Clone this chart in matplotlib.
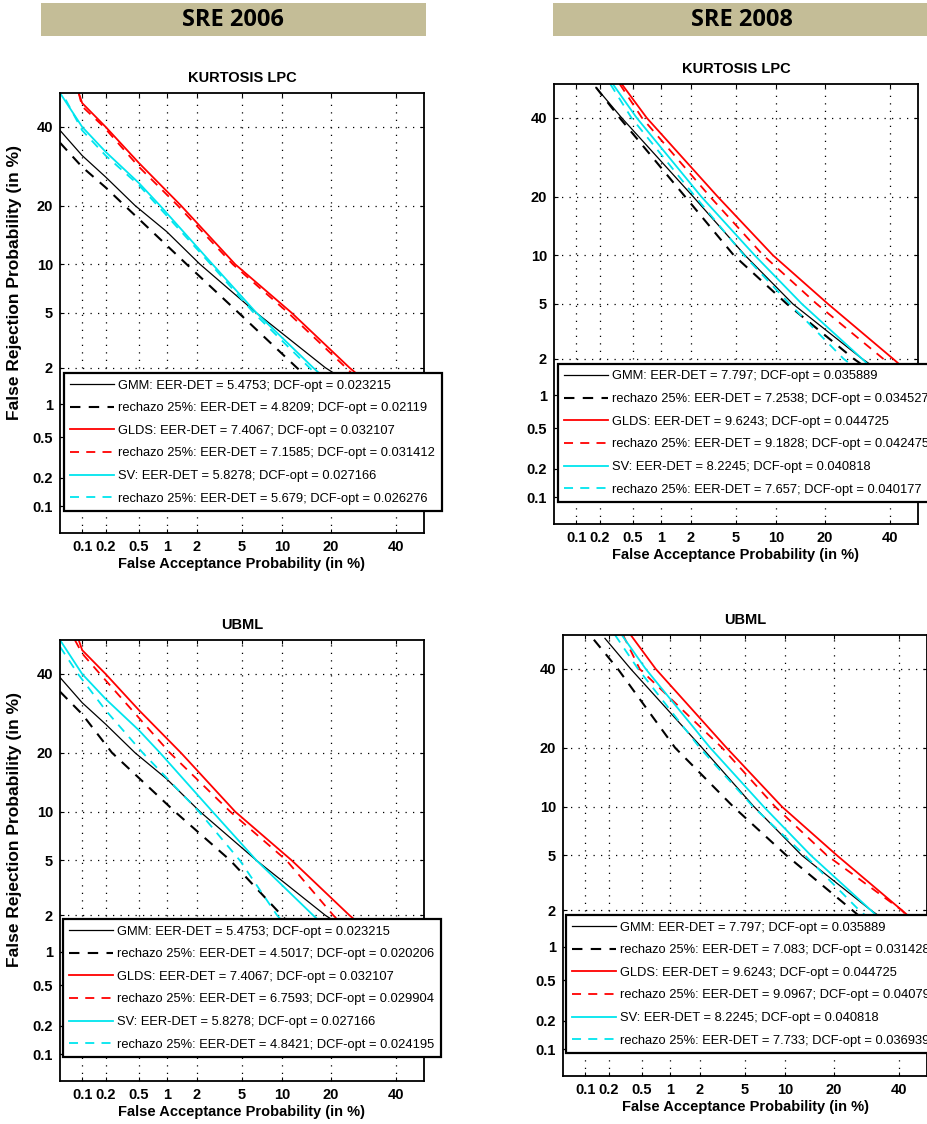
import numpy as np
import matplotlib.pyplot as plt
from matplotlib.patches import Rectangle
from statistics import NormalDist

plt.rcParams['font.family'] = ['Liberation Sans', 'DejaVu Sans']

# tick positions (percent)
ticks = [0.1, 0.2, 0.5, 1, 2, 5, 10, 20, 40]
tick_labels = ['0.1', '0.2', '0.5', '1', '2', '5', '10', '20', '40']

# ---- SRE 2006, baseline systems (same in both rows) ----
gmm06_fa = [0.05, 0.1, 0.2, 0.45, 1, 2.15, 6.5, 18.6, 25]
gmm06_fr = [39, 32, 26.5, 20, 15, 10, 5, 2, 1.5]
glds06_fa = [0.09, 0.1, 0.2, 0.5, 1.4, 4.4, 11.6, 25, 32]
glds06_fr = [50, 47, 40, 30, 20, 10, 5, 2, 1.4]
sv06_fa = [0.05, 0.1, 0.2, 0.5, 0.85, 2.8, 6.5, 15.8, 18]
sv06_fr = [50, 40, 33, 25, 20, 10, 5, 2, 1.7]

# SRE 2006, KURTOSIS LPC rejection 25%
gmm06k_fa = [0.05, 0.1, 0.2, 0.34, 0.7, 1.6, 4.7, 12.5, 17]
gmm06k_fr = [35.5, 29, 24, 20, 15, 10, 5, 2, 1.4]
glds06k_fa = [0.09, 0.1, 0.19, 0.5, 1.3, 4.2, 11, 24, 30]
glds06k_fr = [50, 46, 40, 29, 20, 10, 5, 2, 1.4]
sv06k_fa = [0.06, 0.1, 0.2, 0.5, 0.8, 2.7, 6.2, 15, 17]
sv06k_fr = [48, 39, 32, 24.5, 20, 10, 5, 2, 1.7]

# SRE 2006, UBML rejection 25%
gmm06u_fa = [0.05, 0.1, 0.24, 1.22, 4, 9.9, 13]
gmm06u_fr = [35, 29, 20, 10, 5, 2, 1.4]
glds06u_fa = [0.08, 0.1, 0.17, 1.08, 4, 10.7, 20.6, 26]
glds06u_fr = [50, 46, 40, 20, 10, 5, 2, 1.4]
sv06u_fa = [0.05, 0.088, 0.2, 0.55, 2.1, 4.8, 9.2, 12]
sv06u_fr = [48, 40, 30, 20, 10, 5, 2, 1.4]

# ---- SRE 2008, baseline systems ----
gmm08_fa = [0.18, 0.37, 2.1, 5.9, 12.9, 30.6, 38]
gmm08_fr = [49, 40, 20, 10, 5, 2, 1.5]
glds08_fa = [0.37, 0.71, 3.5, 9.5, 20.8, 41, 46]
glds08_fr = [50, 40, 20, 10, 5, 2, 1.6]
sv08_fa = [0.29, 0.55, 2.5, 7.0, 14.7, 30.6, 36]
sv08_fr = [50, 40, 20, 10, 5, 2, 1.5]

# SRE 2008, KURTOSIS LPC rejection 25%
gmm08k_fa = [0.18, 0.35, 1.76, 4.8, 11.8, 28, 35]
gmm08k_fr = [49, 40, 20, 10, 5, 2, 1.5]
glds08k_fa = [0.35, 0.63, 3.0, 8.1, 18, 37.6, 44]
glds08k_fr = [50, 40, 20, 10, 5, 2, 1.5]
sv08k_fa = [0.27, 0.48, 2.2, 5.8, 12.3, 25, 31]
sv08k_fr = [50, 40, 20, 10, 5, 2, 1.5]

# SRE 2008, UBML rejection 25%
gmm08u_fa = [0.13, 0.26, 1.14, 4.0, 10.2, 25, 32]
gmm08u_fr = [48.6, 40, 20, 10, 5, 2, 1.4]
glds08u_fa = [0.3, 0.47, 3.2, 8.5, 18.3, 41, 46]
glds08u_fr = [50, 40, 20, 10, 5, 2, 1.5]
sv08u_fa = [0.24, 0.45, 2.0, 5.8, 13.5, 27, 33]
sv08u_fr = [50, 40, 20, 10, 5, 2, 1.5]

labels_06k = ['GMM: EER-DET = 5.4753; DCF-opt = 0.023215',
              'rechazo 25%: EER-DET = 4.8209; DCF-opt = 0.02119',
              'GLDS: EER-DET = 7.4067; DCF-opt = 0.032107',
              'rechazo 25%: EER-DET = 7.1585; DCF-opt = 0.031412',
              'SV: EER-DET = 5.8278; DCF-opt = 0.027166',
              'rechazo 25%: EER-DET = 5.679; DCF-opt = 0.026276']
labels_06u = ['GMM: EER-DET = 5.4753; DCF-opt = 0.023215',
              'rechazo 25%: EER-DET = 4.5017; DCF-opt = 0.020206',
              'GLDS: EER-DET = 7.4067; DCF-opt = 0.032107',
              'rechazo 25%: EER-DET = 6.7593; DCF-opt = 0.029904',
              'SV: EER-DET = 5.8278; DCF-opt = 0.027166',
              'rechazo 25%: EER-DET = 4.8421; DCF-opt = 0.024195']
labels_08k = ['GMM: EER-DET = 7.797; DCF-opt = 0.035889',
              'rechazo 25%: EER-DET = 7.2538; DCF-opt = 0.034527',
              'GLDS: EER-DET = 9.6243; DCF-opt = 0.044725',
              'rechazo 25%: EER-DET = 9.1828; DCF-opt = 0.042475',
              'SV: EER-DET = 8.2245; DCF-opt = 0.040818',
              'rechazo 25%: EER-DET = 7.657; DCF-opt = 0.040177']
labels_08u = ['GMM: EER-DET = 7.797; DCF-opt = 0.035889',
              'rechazo 25%: EER-DET = 7.083; DCF-opt = 0.031428',
              'GLDS: EER-DET = 9.6243; DCF-opt = 0.044725',
              'rechazo 25%: EER-DET = 9.0967; DCF-opt = 0.040794',
              'SV: EER-DET = 8.2245; DCF-opt = 0.040818',
              'rechazo 25%: EER-DET = 7.733; DCF-opt = 0.036939']

nd = NormalDist()
_ppf = np.vectorize(nd.inv_cdf, otypes=[float])
_cdf = np.vectorize(nd.cdf, otypes=[float])


def to_dev(p):
    p = np.clip(np.asarray(p, dtype=float) / 100.0, 1e-9, 1 - 1e-9)
    return _ppf(p)


def from_dev(d):
    return _cdf(np.asarray(d, dtype=float)) * 100.0


W, H = 928, 1124
fig = plt.figure(figsize=(W / 100, H / 100), dpi=100)

# header boxes
for x0, x1, tx, txt in [(41, 426, 233, 'SRE 2006'), (553, 935, 742, 'SRE 2008')]:
    fig.add_artist(Rectangle((x0 / W, 1 - 36 / H), (x1 - x0) / W, 33 / H,
                             transform=fig.transFigure, facecolor='#C4BD97',
                             edgecolor='none'))
    fig.text(tx / W, 1 - 20 / H, txt, ha='center', va='center', fontsize=17,
             fontweight='bold', family=['Open Sans', 'DejaVu Sans'])

styles = [dict(color='k', lw=0.9, ls='-'),
          dict(color='k', lw=1.5, ls=(0, (5, 4))),
          dict(color='#FF0000', lw=1.3, ls='-'),
          dict(color='#FF0000', lw=1.3, ls=(0, (5, 4))),
          dict(color='#00E5EE', lw=1.3, ls='-'),
          dict(color='#00E5EE', lw=1.3, ls=(0, (5, 4)))]

# (left, top, right, bottom) px, title, curves, labels, legend corner px, ylabel
panels = [
    ((60, 93, 424, 533), 'KURTOSIS LPC',
     [(gmm06_fa, gmm06_fr), (gmm06k_fa, gmm06k_fr), (glds06_fa, glds06_fr),
      (glds06k_fa, glds06k_fr), (sv06_fa, sv06_fr), (sv06k_fa, sv06k_fr)],
     labels_06k, (64, 373), True),
    ((554, 84, 918, 524), 'KURTOSIS LPC',
     [(gmm08_fa, gmm08_fr), (gmm08k_fa, gmm08k_fr), (glds08_fa, glds08_fr),
      (glds08k_fa, glds08k_fr), (sv08_fa, sv08_fr), (sv08k_fa, sv08k_fr)],
     labels_08k, (558, 364), False),
    ((60, 640, 424, 1081), 'UBML',
     [(gmm06_fa, gmm06_fr), (gmm06u_fa, gmm06u_fr), (glds06_fa, glds06_fr),
      (glds06u_fa, glds06u_fr), (sv06_fa, sv06_fr), (sv06u_fa, sv06u_fr)],
     labels_06u, (63, 919), True),
    ((563, 635, 927, 1076), 'UBML',
     [(gmm08_fa, gmm08_fr), (gmm08u_fa, gmm08u_fr), (glds08_fa, glds08_fr),
      (glds08u_fa, glds08u_fr), (sv08_fa, sv08_fr), (sv08u_fa, sv08u_fr)],
     labels_08u, (566, 915), False),
]

for (l, t, r, b), title, curves, labels, (lx, ly), has_ylabel in panels:
    ax = fig.add_axes([l / W, 1 - b / H, (r - l) / W, (b - t) / H])
    ax.set_xscale('function', functions=(to_dev, from_dev))
    ax.set_yscale('function', functions=(to_dev, from_dev))
    handles = []
    for (fa, fr), st in zip(curves, styles):
        h, = ax.plot(fa, fr, color=st['color'], lw=st['lw'], linestyle=st['ls'])
        handles.append(h)
    ax.set_xlim(0.05, 50)
    ax.set_ylim(0.05, 50)
    ax.set_xticks(ticks)
    ax.set_yticks(ticks)
    ax.set_xticklabels(tick_labels, fontweight='bold', fontsize=10.5)
    ax.set_yticklabels(tick_labels, fontweight='bold', fontsize=10.5)
    ax.minorticks_off()
    ax.tick_params(direction='in', length=3, top=True, right=True, pad=5)
    ax.grid(True, color='k', linestyle=(0, (1, 5)), linewidth=0.9)
    for sp in ax.spines.values():
        sp.set_linewidth(1.3)
    ax.set_title(title, fontsize=10.5, fontweight='bold', pad=8)
    ax.set_xlabel('False Acceptance Probability (in %)', fontsize=10.5,
                  fontweight='bold', labelpad=2)
    if has_ylabel:
        ax.set_ylabel('False Rejection Probability (in %)', fontsize=12.5,
                      fontweight='bold')
        ax.yaxis.set_label_coords(-0.104, 0.57)
    leg = ax.legend(handles, labels, loc='upper left',
                    bbox_to_anchor=(lx / W, 1 - ly / H),
                    bbox_transform=fig.transFigure, borderaxespad=0,
                    fancybox=False, edgecolor='k', framealpha=1, fontsize=9.3,
                    handlelength=3.4, handletextpad=0.3, labelspacing=0.82,
                    borderpad=0.5)
    leg.get_frame().set_linewidth(1.6)

fig.savefig('out.png', dpi=100)
